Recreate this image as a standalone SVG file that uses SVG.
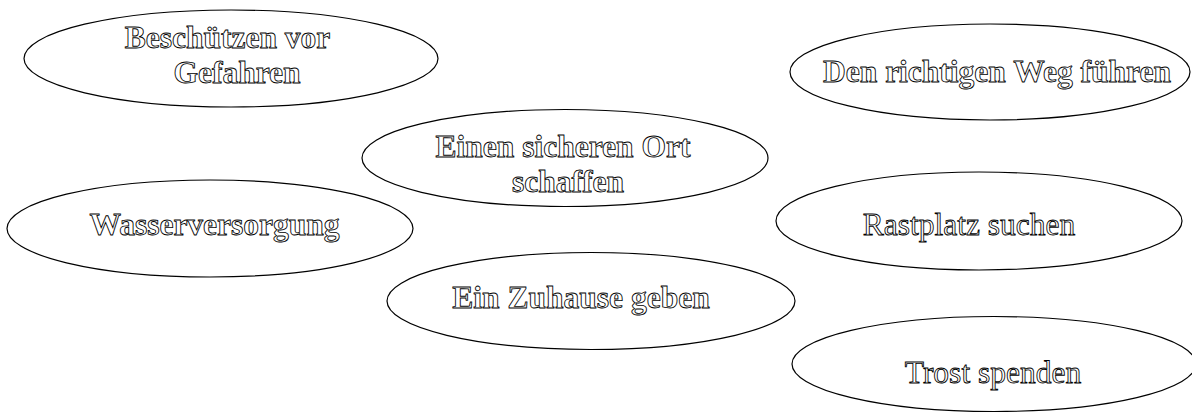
<svg xmlns="http://www.w3.org/2000/svg" width="1192" height="413" viewBox="0 0 1192 413">
<style>
.n ellipse{fill:#fff;stroke:#000;stroke-width:1.2}
.n text{font-family:"Liberation Serif","Times New Roman",serif;font-size:31.5px;fill:#fff;stroke:#000;stroke-width:0.85;text-anchor:middle}
.b text{font-weight:bold}
</style>
<rect width="1192" height="413" fill="#fff"/>
<g id="connectors"></g>
<g id="n1" class="n b"><ellipse cx="231" cy="58.5" rx="207" ry="48.5"/><text x="227.5" y="48">Beschützen vor</text><text x="237" y="83">Gefahren</text></g>
<g id="n2" class="n b"><ellipse cx="990" cy="72" rx="200" ry="48"/><text x="997" y="82">Den richtigen Weg führen</text></g>
<g id="n3" class="n b"><ellipse cx="565" cy="158" rx="203" ry="48.5"/><text x="563" y="157">Einen sicheren Ort</text><text x="568" y="192">schaffen</text></g>
<g id="n4" class="n b"><ellipse cx="210" cy="228.5" rx="203" ry="48.5"/><text x="214.5" y="235">Wasserversorgung</text></g>
<g id="n5" class="n b"><ellipse cx="591" cy="301" rx="204" ry="48.5"/><text x="581" y="308">Ein Zuhause geben</text></g>
<g id="n6" class="n"><ellipse cx="979" cy="221" rx="203" ry="49"/><text x="969" y="235">Rastplatz suchen</text></g>
<g id="n7" class="n"><ellipse cx="994" cy="364" rx="202" ry="47.5"/><text x="993" y="383">Trost spenden</text></g>
</svg>
